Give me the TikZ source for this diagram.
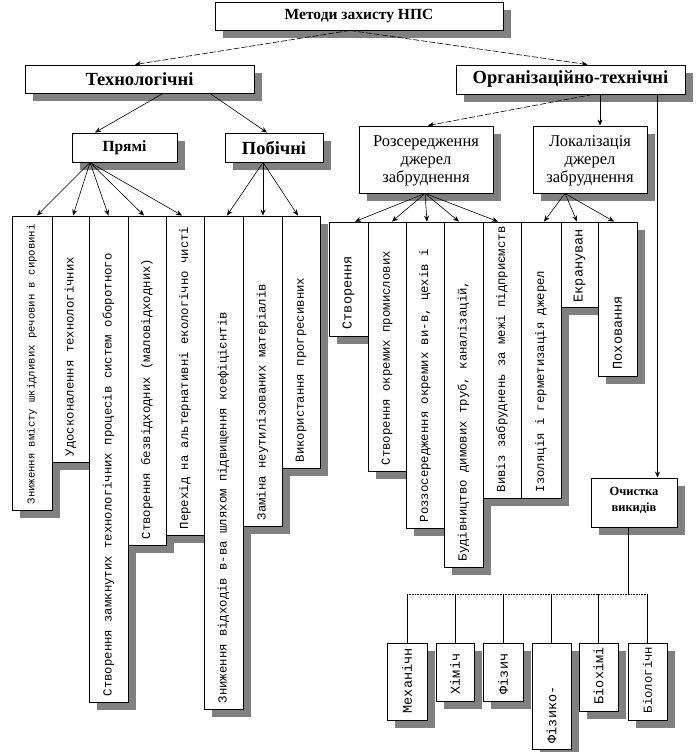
\documentclass[tikz,border=0pt]{standalone}
\usepackage{fontspec}
\setmainfont{Liberation Serif}
\newfontfamily\monof{Liberation Mono}
\usetikzlibrary{arrows.meta,calc,fit}

\tikzset{
  box/.style={draw, fill=white, line width=0.9pt, inner sep=0pt},
  shadowc/.style={fill=black!50},
  arr/.style={-{Stealth[length=6pt,width=5pt]}, line width=0.6pt},
  dsh/.style={dash pattern=on 6pt off 2pt},
  coltxt/.style={font=\monof\fontsize{12.3}{14}\selectfont, rotate=90, anchor=west, inner sep=0pt},
  coltxtb/.style={font=\monof\fontsize{13.5}{15}\selectfont, rotate=90, anchor=west, inner sep=0pt},
  coltxts/.style={font=\monof\fontsize{10.6}{12}\selectfont, rotate=90, anchor=west, inner sep=0pt},
  head/.style={font=\bfseries\fontsize{18.5}{21}\selectfont, inner sep=0pt},
  sub/.style={font=\fontsize{16.5}{18}\selectfont, align=center, inner sep=0pt},
  bus/.style={line width=0.6pt, densely dotted},
  stub/.style={line width=0.6pt},
}

% [shadow offset]{name}{x1}{y1}{x2}{y2}
\newcommand\mkbox[6][8]{%
  \fill[shadowc] (#3+#1,#4+#1) rectangle (#5+#1,#6+#1);
  \coordinate (#2-a) at (#3,#4);
  \coordinate (#2-b) at (#5,#6);
  \node[box, fit=(#2-a)(#2-b)] (#2) {};
}

\begin{document}
\begin{tikzpicture}[x=1pt,y=-1pt]
\useasboundingbox (0,0) rectangle (696,752);

% ---------- top levels ----------
\mkbox{top}{215}{2}{503}{30}
\node[font=\bfseries\fontsize{15.5}{18}\selectfont] (topt) at (top) {Методи захисту НПС};

\mkbox{tech}{25}{65}{254}{93}
\node[head] (techt) at (tech) {Технологічні};

\mkbox{org}{456}{65}{685}{94}
\node[head] (orgt) at (org) {Організаційно-технічні};

\mkbox{pr}{72}{133}{177}{162}
\node[font=\bfseries\fontsize{15.5}{18}\selectfont] (prt) at (pr) {Прямі};

\mkbox{pb}{225}{133}{323}{162}
\node[head] (pbt) at (pb) {Побічні};

\mkbox{roz}{359}{126}{493}{193}
\node[sub] (rozt) at ($(roz)+(0,1)$) {Розсередження\\джерел\\забруднення};

\mkbox{lok}{533}{126}{647}{193}
\node[sub] (lokt) at ($(lok)+(0,1)$) {Локалізація\\джерел\\забруднення};

% ---------- left columns ----------
\mkbox{c1}{12}{216}{52}{510}
\mkbox{c2}{52}{216}{89}{462}
\mkbox{c3}{89}{216}{128}{702}
\mkbox{c4}{128}{216}{166}{545}
\mkbox{c5}{166}{216}{204}{535}
\mkbox{c6}{204}{216}{243}{709}
\mkbox{c7}{243}{216}{282}{526}
\mkbox{c8}{282}{216}{320}{468}

\node[coltxts] (c1t) at ($(c1.south)+(0,-6)$) {Зниження вмісту шкідливих речовин в сировині};
\node[coltxt] (c2t) at ($(c2.south)+(0,-6)$) {Удосконалення технологічних};
\node[coltxt] (c3t) at ($(c3.south)+(0,-6)$) {Створення замкнутих технологічних процесів систем оборотного};
\node[coltxt] (c4t) at ($(c4.south)+(0,-6)$) {Створення безвідходних (маловідходних)};
\node[coltxt] (c5t) at ($(c5.south)+(0,-6)$) {Перехід на альтернативні екологічно чисті};
\node[coltxt] (c6t) at ($(c6.south)+(0,-6)$) {Зниження відходів в-ва шляхом підвищення коефіцієнтів};
\node[coltxt] (c7t) at ($(c7.south)+(0,-6)$) {Заміна неутилізованих матеріалів};
\node[coltxt] (c8t) at ($(c8.south)+(0,-6)$) {Використання прогресивних};

% ---------- right columns ----------
\mkbox{c9}{329}{222}{368}{336}
\mkbox{c10}{368}{222}{406}{471}
\mkbox{c11}{406}{222}{444}{528}
\mkbox{c12}{444}{222}{483}{567}
\mkbox{c13}{483}{222}{521}{498}
\mkbox{c14}{521}{222}{561}{498}
\mkbox{c15}{561}{222}{598}{307}
\mkbox{c16}{598}{222}{637}{376}

\node[coltxtb] (c9t) at ($(c9.south)+(0,-7)$) {Створення};
\node[coltxt] (c10t) at ($(c10.south)+(0,-6)$) {Створення окремих промислових};
\node[coltxt] (c11t) at ($(c11.south)+(0,-6)$) {Роззосередження окремих ви-в, цехів і};
\node[coltxt] (c12t) at ($(c12.south)+(0,-6)$) {Будівництво димових труб, каналізацій,};
\node[coltxt] (c13t) at ($(c13.south)+(0,-6)$) {Вивіз забруднень за межі підприємств};
\node[coltxt] (c14t) at ($(c14.south)+(0,-6)$) {Ізоляція і герметизація джерел};
\node[coltxtb] (c15t) at ($(c15.south)+(0,-5)$) {Екрануван};
\node[coltxtb] (c16t) at ($(c16.south)+(0,-7)$) {Поховання};

% ---------- cleaning ----------
\mkbox{och}{591}{478}{677}{527}
\node[font=\bfseries\fontsize{12.5}{16}\selectfont, align=center, inner sep=0pt] (ocht) at ($(och)+(0,-2)$) {Очистка\\викидів};

\mkbox{m1}{387}{643}{427}{720}
\mkbox{m2}{436}{643}{474}{701}
\mkbox{m3}{483}{643}{523}{701}
\mkbox{m4}{532}{643}{571}{749}
\mkbox{m5}{579}{643}{618}{711}
\mkbox{m6}{628}{643}{667}{720}

\node[coltxtb] (m1t) at ($(m1.south)+(0,-7)$) {Механічн};
\node[coltxtb] (m2t) at ($(m2.south)+(0,-7)$) {Хіміч};
\node[coltxtb] (m3t) at ($(m3.south)+(0,-7)$) {Фізич};
\node[coltxtb] (m4t) at ($(m4.south)+(0,-6)$) {Фізико-};
\node[coltxtb] (m5t) at ($(m5.south)+(0,-7)$) {Біохімі};
\node[coltxt] (m6t) at ($(m6.south)+(0,-7)$) {Біологічн};

% ---------- connectors ----------
\draw[arr,dsh] ([xshift=-9]top.south) -- ([xshift=-4.5]tech.north);
\draw[arr,dsh] ([xshift=-9]top.south) -- ([xshift=17]org.north);

\draw[arr] ([xshift=23.5]tech.south) -- ([xshift=-29.5]pr.north);
\draw[arr] ([xshift=70.5]tech.south) -- ([xshift=-7]pb.north);

\coordinate (prs) at ([xshift=-34.5]pr.south);
\draw[arr] (prs) -- ([xshift=5]c1.north);
\draw[arr] (prs) -- ([xshift=2.5]c2.north);
\draw[arr] (prs) -- (c3.north);
\draw[arr] (prs) -- ([xshift=-3]c4.north);
\draw[arr] (prs) -- ([xshift=-3]c5.north);

\coordinate (pbs) at ([xshift=-11]pb.south);
\draw[arr] (pbs) -- ([xshift=3.5]c6.north);
\draw[arr] (pbs) -- ([xshift=0.5]c7.north);
\draw[arr] (pbs) -- ([xshift=-3]c8.north);

\draw[arr,dsh] ([xshift=22.5]org.south) -- ([xshift=2]roz.north);
\draw[arr] ([xshift=29.5]org.south) -- ([xshift=10]lok.north);

\coordinate (rozs) at ([xshift=-1]roz.south);
\draw[arr] (rozs) -- ([xshift=6.5]c9.north);
\draw[arr] (rozs) -- ([xshift=5]c10.north);
\draw[arr] (rozs) -- ([xshift=2]c11.north);
\draw[arr] (rozs) -- ([xshift=-4.5]c12.north);
\draw[arr] (rozs) -- ([xshift=-4]c13.north);

\coordinate (loks) at ([xshift=-25]lok.south);
\draw[arr] (loks) -- ([xshift=3]c14.north);
\draw[arr] (loks) -- ([xshift=-2.5]c15.north);
\draw[arr] (loks) -- ([xshift=-3.5]c16.north);

\coordinate (v1) at ([xshift=87]org.south);
\coordinate (v2) at ([xshift=23.5]och.north);
\draw[arr] (v1) -- (v2);

\coordinate (stem) at ([xshift=-6]och.south);
\coordinate (bus) at (628,594);
\draw[stub] (stem) -- (bus);
\draw[bus] (m1.north |- bus) -- (m6.north |- bus);
\foreach \m in {m1,m2,m3,m4,m5,m6}{
  \draw[stub] (\m.north |- bus) -- (\m.north);
}
\end{tikzpicture}
\end{document}
